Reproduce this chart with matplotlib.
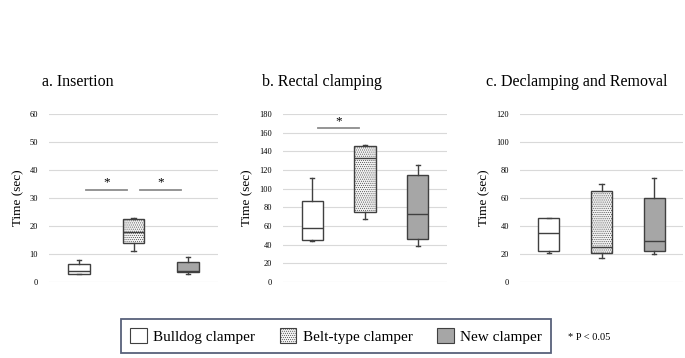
import matplotlib
matplotlib.use('Agg')
import matplotlib.pyplot as plt
import matplotlib.patches as patches

plt.rcParams['font.family'] = ['Liberation Serif', 'DejaVu Serif']
plt.rcParams['hatch.color'] = '#c4c4c4'
plt.rcParams['hatch.linewidth'] = 0.4

W, H = 685, 358

groups = ['Bulldog clamper', 'Belt-type clamper', 'New clamper']
titles = ['a. Insertion', 'b. Rectal clamping', 'c. Declamping and Removal']

# five-number summaries per panel: [bulldog, belt-type, new]
ins_lo = [3, 11, 3]
ins_q1 = [3, 14, 3.5]
ins_med = [4, 18, 4]
ins_q3 = [6.5, 22.5, 7]
ins_hi = [8, 23, 9]

rec_lo = [44, 68, 39]
rec_q1 = [44.5, 75, 46]
rec_med = [58, 133, 73]
rec_q3 = [87, 146, 115]
rec_hi = [111, 147, 125]

dec_lo = [21, 17, 20]
dec_q1 = [22.5, 21, 22]
dec_med = [35, 25, 29]
dec_q3 = [46, 65, 60]
dec_hi = [46, 70, 74]

ymax = [60, 180, 120]
ystep = [10, 20, 20]
sig_a = [(1, 2, 33), (2, 3, 33)]
sig_b = [(1, 2, 165)]
sig_c = []

panels = [
    (ins_lo, ins_q1, ins_med, ins_q3, ins_hi, sig_a),
    (rec_lo, rec_q1, rec_med, rec_q3, rec_hi, sig_b),
    (dec_lo, dec_q1, dec_med, dec_q3, dec_hi, sig_c),
]

# axes pixel extents (left, right) and title left edges
xext = [(49, 218), (283, 447), (520, 683)]
title_x = [42, 262, 486]
ytop, ybot = 114, 282

faces = ['white', '#f2f2f2', '#a6a6a6']
hatches = [None, '........', None]
edge = '#404040'

fig = plt.figure(figsize=(W / 100, H / 100), dpi=100)

for i, (lo, q1, med, q3, hi, sigs) in enumerate(panels):
    x0, x1 = xext[i]
    ax = fig.add_axes([x0 / W, (H - ybot) / H, (x1 - x0) / W, (ybot - ytop) / H])
    stats = [dict(whislo=lo[k], q1=q1[k], med=med[k], q3=q3[k], whishi=hi[k],
                  label=groups[k]) for k in range(3)]
    bp = ax.bxp(stats, positions=[1, 2, 3], widths=0.4, showfliers=False,
                patch_artist=True,
                boxprops=dict(edgecolor=edge, linewidth=1.0),
                medianprops=dict(color=edge, linewidth=1.0),
                whiskerprops=dict(color=edge, linewidth=1.0),
                capprops=dict(color=edge, linewidth=1.0), capwidths=0.08)
    for k, b in enumerate(bp['boxes']):
        b.set_facecolor(faces[k])
        if hatches[k]:
            b.set_hatch(hatches[k])
    ax.set_xlim(0.45, 3.55)
    ax.set_ylim(0, ymax[i])
    ax.set_yticks(range(0, ymax[i] + 1, ystep[i]))
    ax.set_xticks([])
    ax.yaxis.grid(True, color='#d9d9d9', lw=0.8)
    ax.set_axisbelow(True)
    for s in ax.spines.values():
        s.set_visible(False)
    ax.tick_params(axis='y', length=0, pad=8, labelsize=6)
    ax.set_ylabel('Time (sec)', fontsize=9.5, labelpad=4)
    for (a, b, y) in sigs:
        ax.plot([a + 0.12, b - 0.12], [y, y], color='#8c8c8c', lw=1.3, clip_on=False)
        ax.text((a + b) / 2, y + ymax[i] * 0.005, '*', ha='center', va='bottom',
                fontsize=9.5)
    fig.text(title_x[i] / W, (H - 82) / H, titles[i], fontsize=11.5, ha='left', va='center')

handles = [patches.Patch(facecolor=faces[k], edgecolor=edge, hatch=hatches[k],
                         linewidth=0.8, label=groups[k]) for k in range(3)]
leg = fig.legend(handles=handles, loc='center', bbox_to_anchor=(336 / W, (H - 336) / H),
                 ncol=3, fontsize=11, frameon=True, fancybox=False,
                 handlelength=1.1, handleheight=1.1, handletextpad=0.4,
                 columnspacing=1.6, borderpad=0.6, borderaxespad=0)
leg.get_frame().set_edgecolor('#2f3a5a')
leg.get_frame().set_linewidth(1.3)

fig.text(568 / W, (H - 338) / H, '* P < 0.05', fontsize=7.5, ha='left', va='center')

fig.savefig('out.png', dpi=100, facecolor='white')
